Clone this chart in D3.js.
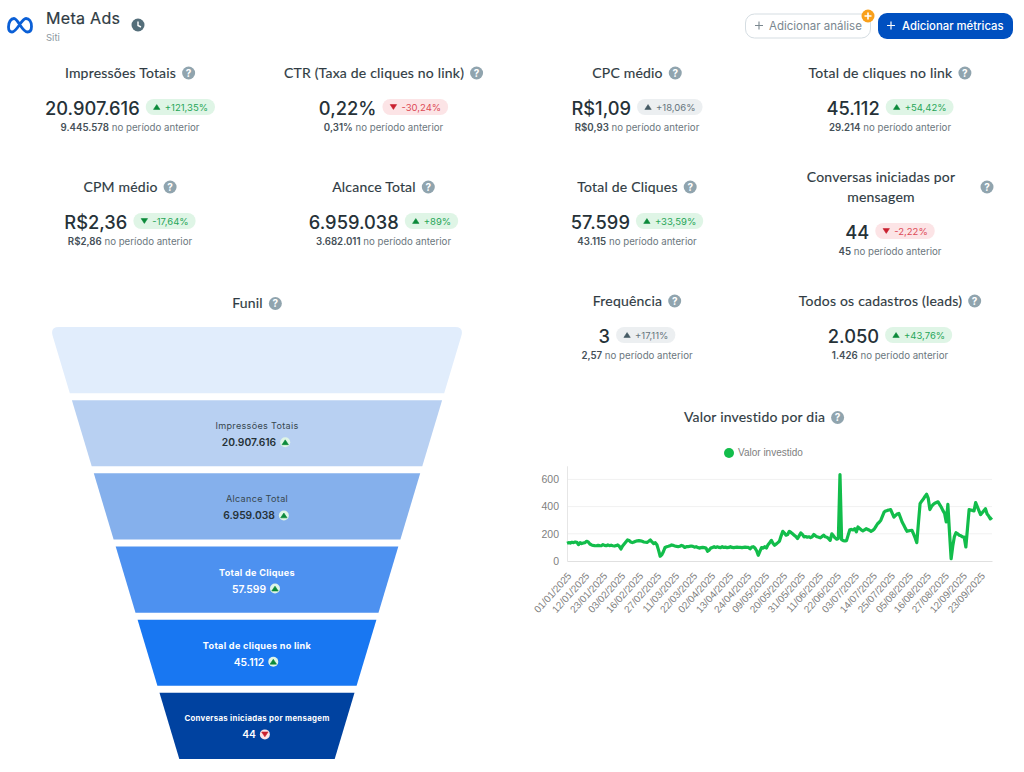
<!DOCTYPE html>
<html lang="pt-BR">
<head>
<meta charset="utf-8">
<title>Meta Ads</title>
<script src="https://cdn.jsdelivr.net/npm/d3@7/dist/d3.min.js"></script>
<style>
  html, body { margin: 0; padding: 0; background: #fff; }
  svg { display: block; }
  text { font-family: Inter, "Noto Sans", sans-serif; }
  .title { font-family: Lato, sans-serif; font-size: 14px; fill: #2f3b43; letter-spacing: .2px; stroke: #2f3b43; stroke-width: .15px; }
  .chart-txt { font-family: "Liberation Sans", Arial, sans-serif; font-size: 10px; fill: #808080; }
</style>
</head>
<body>
<svg id="page" width="1024" height="772"></svg>
<script>
// Metric cards
const metricNames = ["Impressões Totais", "CTR (Taxa de cliques no link)", "CPC médio", "Total de cliques no link",
  "CPM médio", "Alcance Total", "Total de Cliques", "Conversas iniciadas por mensagem",
  "Frequência", "Todos os cadastros (leads)"];
const metricValues = ["20.907.616", "0,22%", "R$1,09", "45.112", "R$2,36", "6.959.038", "57.599", "44", "3", "2.050"];
const metricDeltas = ["+121,35%", "-30,24%", "+18,06%", "+54,42%", "-17,64%", "+89%", "+33,59%", "-2,22%", "+17,11%", "+43,76%"];
const metricPrev = ["9.445.578", "0,31%", "R$0,93", "29.214", "R$2,86", "3.682.011", "43.115", "45", "2,57", "1.426"];
const metricTones = ["good", "bad", "neutral", "good", "good", "good", "good", "bad", "neutral", "good"];

// Funnel
const funnelLabels = ["", "Impressões Totais", "Alcance Total", "Total de Cliques", "Total de cliques no link", "Conversas iniciadas por mensagem"];
const funnelValues = ["", "20.907.616", "6.959.038", "57.599", "45.112", "44"];
const funnelTrend = ["", "up", "up", "up", "up", "down"];
const funnelColors = ["#e1edfc", "#b8d0f2", "#85b0ec", "#4d91f0", "#1877f2", "#0042a0"];

// Valor investido por dia, one value per day shown
const spendTickLabels = ["01/01/2025", "12/01/2025", "23/01/2025", "03/02/2025", "16/02/2025", "27/02/2025", "11/03/2025", "22/03/2025",
  "02/04/2025", "13/04/2025", "24/04/2025", "09/05/2025", "20/05/2025", "31/05/2025", "11/06/2025", "22/06/2025",
  "03/07/2025", "14/07/2025", "25/07/2025", "05/08/2025", "16/08/2025", "27/08/2025", "12/09/2025", "23/09/2025"];
const spendValues = [
  130, 135, 132, 138, 135, 140, 138, 120, 135, 128, 132,
  135, 145, 140, 125, 118, 115, 113, 112, 115, 113, 112,
  120, 115, 112, 118, 113, 116, 112, 110, 113, 118, 108,
  88, 110, 125, 140, 155, 150, 140, 135, 140, 145, 148,
  150, 148, 145, 140, 138, 137, 145, 155, 140, 128, 135,
  120, 80, 35, 45, 70, 100, 105, 108, 112, 118, 115,
  110, 108, 105, 108, 115, 110, 100, 105, 105, 108, 110,
  108, 102, 105, 100, 95, 98, 100, 98, 95, 72, 80,
  95, 100, 105, 100, 104, 100, 98, 105, 100, 102, 98,
  100, 105, 100, 98, 100, 102, 100, 100, 98, 100, 102,
  100, 100, 90, 102, 105, 95, 75, 42, 70, 98, 95,
  105, 95, 120, 135, 152, 130, 115, 125, 135, 147, 185,
  218, 205, 190, 195, 218, 210, 200, 190, 180, 165, 185,
  206, 195, 177, 180, 175, 178, 172, 178, 195, 185, 178,
  175, 170, 180, 190, 178, 175, 165, 152, 200, 185, 170,
  160, 165, 635, 157, 150, 148, 150, 190, 230, 232, 228,
  238, 214, 250, 240, 228, 221, 228, 238, 232, 226, 218,
  225, 235, 255, 274, 285, 300, 330, 360, 368, 372, 375,
  378, 350, 323, 335, 345, 350, 320, 287, 265, 240, 218,
  222, 224, 226, 200, 170, 135, 280, 422, 440, 455, 475,
  491, 460, 378, 400, 415, 425, 430, 435, 415, 395, 370,
  350, 287, 416, 210, 17, 110, 180, 208, 200, 190, 185,
  177, 175, 103, 240, 378, 375, 372, 368, 430, 400, 370,
  341, 355, 370, 385, 345, 330, 310, 320
];
const spendYTicks = [0, 200, 400, 600];

const svg = d3.select("#page");

const TONES = {
  good: { bg: "#dff5e6", fg: "#27a558", arrow: "#0b8a3a" },
  bad: { bg: "#fce4e6", fg: "#dc4a56", arrow: "#c9202f" },
  neutral: { bg: "#eceff1", fg: "#66747c", arrow: "#455a64" },
};

function helpIcon(g, x, y) {
  g.append("circle").attr("cx", x).attr("cy", y).attr("r", 6.5).attr("fill", "#90a4ae");
  g.append("text").attr("x", x).attr("y", y + 3.6).attr("text-anchor", "middle")
    .attr("font-size", 10).attr("font-weight", 700).attr("fill", "#fff").text("?");
}

// small triangle, tip up or down
function triangle(g, x, y, size, dir, fill) {
  const s = dir === "up" ? -1 : 1;
  g.append("path")
    .attr("d", `M${x - size},${y - s * size * 0.75}L${x + size},${y - s * size * 0.75}L${x},${y + s * size * 0.75}Z`)
    .attr("fill", fill).attr("stroke", fill).attr("stroke-width", 0.6).attr("stroke-linejoin", "round");
}

function titleWidth(g, str) {
  const t = g.append("text").attr("class", "title").text(str);
  const w = t.node().getComputedTextLength();
  t.remove();
  return w;
}

// ---- header
const meta = svg.append("g");
meta.append("path")
  .attr("d", "M12,32 C9,32 8.5,29 8.5,27 C8.5,22 11,18.5 14,18.5 C18,18.5 22,32 27.5,32 C30.5,32 31.5,29.5 31.5,26.5 C31.5,21.5 29,18.5 26,18.5 C21.5,18.5 17,32 12,32Z")
  .attr("fill", "none").attr("stroke", "#0a5fd6").attr("stroke-width", 2.8).attr("stroke-linejoin", "round");
meta.append("text").attr("x", 46).attr("y", 24).attr("font-family", "Lato").attr("font-size", 16)
  .attr("letter-spacing", 0.3).attr("fill", "#2f3b43").attr("stroke", "#2f3b43").attr("stroke-width", 0.2).text("Meta Ads");
meta.append("text").attr("x", 46).attr("y", 41).attr("font-size", 9.5).attr("fill", "#8a979f").text("Siti");
meta.append("circle").attr("cx", 138).attr("cy", 25).attr("r", 6.5).attr("fill", "#546e7a");
meta.append("path").attr("d", "M138,21.5V25.5L141,27").attr("fill", "none").attr("stroke", "#fff").attr("stroke-width", 1.4);

const btn = svg.append("g");
btn.append("rect").attr("x", 745.5).attr("y", 14).attr("width", 125).attr("height", 24).attr("rx", 9)
  .attr("fill", "#fff").attr("stroke", "#d5dde2");
btn.append("path").attr("d", "M759,21.5V29.5M755,25.5H763").attr("stroke", "#7a878f").attr("stroke-width", 1.1);
btn.append("text").attr("x", 769).attr("y", 29.5).attr("font-size", 11.5).attr("fill", "#7a878f").text("Adicionar análise");
btn.append("circle").attr("cx", 868).attr("cy", 16).attr("r", 6.5).attr("fill", "#f9a01b");
btn.append("path").attr("d", "M868,12.5V19.5M864.5,16H871.5").attr("stroke", "#fff").attr("stroke-width", 1.6);
btn.append("rect").attr("x", 878).attr("y", 13).attr("width", 135).attr("height", 26).attr("rx", 9).attr("fill", "#0050c0");
btn.append("path").attr("d", "M891,21.5V29.5M887,25.5H895").attr("stroke", "#fff").attr("stroke-width", 1.2);
btn.append("text").attr("x", 902).attr("y", 29.5).attr("font-size", 11.3).attr("font-weight", 500).attr("fill", "#fff").text("Adicionar métricas");

// ---- metric cards
const cardX = [130, 383.5, 637, 890, 130, 383.5, 637, 890, 637, 890];
const cardTitleY = [73, 73, 73, 73, 187, 187, 187, 187, 301, 301];
const cardValueY = [108, 108, 108, 108, 222, 222, 222, 232, 336, 336];

metricNames.forEach((name, i) => {
  const g = svg.append("g");
  const cx = cardX[i];
  if (name.startsWith("Conversas")) {
    const parts = ["Conversas iniciadas por", "mensagem"];
    parts.forEach((p, k) => g.append("text").attr("class", "title").attr("x", 881).attr("y", 182 + k * 20)
      .attr("text-anchor", "middle").text(p));
    helpIcon(g, 987, 187);
  } else {
    const w = titleWidth(g, name);
    const left = cx - (w + 19) / 2;
    g.append("text").attr("class", "title").attr("x", left).attr("y", cardTitleY[i] + 5).text(name);
    helpIcon(g, left + w + 12.5, cardTitleY[i]);
  }

  // value + pill, centred together
  const vy = cardValueY[i];
  const tone = TONES[metricTones[i]];
  const valT = g.append("text").attr("y", vy + 7).attr("font-size", 18.3).attr("font-weight", 500)
    .attr("fill", "#263238").text(metricValues[i]);
  const dltT = g.append("text").attr("y", vy + 2.5).attr("font-size", 9.5).attr("fill", tone.fg).text(metricDeltas[i]);
  const vw = valT.node().getComputedTextLength();
  const dw = dltT.node().getComputedTextLength();
  const pw = dw + 26;
  const x0 = cx - (vw + 6 + pw) / 2;
  valT.attr("x", x0);
  const px = x0 + vw + 6;
  g.insert("rect", "text:last-child").attr("x", px).attr("y", vy - 9).attr("width", pw).attr("height", 16).attr("rx", 8).attr("fill", tone.bg);
  dltT.attr("x", px + 19);
  const dir = metricDeltas[i][0] === "+" ? "up" : "down";
  triangle(g, px + 11, vy - 1, 3.2, dir, tone.arrow);

  const prev = g.append("text").attr("x", cx).attr("y", vy + 23).attr("text-anchor", "middle").attr("font-size", 9.7).attr("fill", "#6b777e");
  prev.append("tspan").attr("font-weight", 600).attr("fill", "#455058").text(metricPrev[i]);
  prev.append("tspan").text(" no período anterior");
});

// ---- funnel
const funnel = svg.append("g");
{
  const w = titleWidth(funnel, "Funil");
  const left = 257 - (w + 19) / 2;
  funnel.append("text").attr("class", "title").attr("x", left).attr("y", 308).text("Funil");
  helpIcon(funnel, left + w + 12.5, 303.5);
}
const bandY = d3.scaleBand().domain(d3.range(funnelLabels.length)).range([327, 759]).paddingInner(0.095).paddingOuter(0);
const halfW = d3.scaleLinear().domain([327, 758]).range([207, 78]);
const funnelCx = 257;

function bandPath(i) {
  const y0 = bandY(i), y1 = y0 + bandY.bandwidth();
  const a = halfW(y0), b = halfW(y1);
  const p = d3.path();
  if (i === 0) {
    const r = 9;
    p.moveTo(funnelCx - a + 2.7, y0 + r);
    p.quadraticCurveTo(funnelCx - a, y0, funnelCx - a + r, y0);
    p.lineTo(funnelCx + a - r, y0);
    p.quadraticCurveTo(funnelCx + a, y0, funnelCx + a - 2.7, y0 + r);
  } else {
    p.moveTo(funnelCx - a, y0);
    p.lineTo(funnelCx + a, y0);
  }
  p.lineTo(funnelCx + b, y1);
  p.lineTo(funnelCx - b, y1);
  p.closePath();
  return p.toString();
}

const bands = funnel.selectAll("g.band").data(funnelLabels).join("g").attr("class", "band");
bands.append("path").attr("d", (d, i) => bandPath(i)).attr("fill", (d, i) => funnelColors[i]);
bands.each(function (label, i) {
  if (!label) return;
  const g = d3.select(this);
  const mid = bandY(i) + bandY.bandwidth() / 2;
  const ink = i < 3 ? "#37474f" : "#fff";
  g.append("text").attr("x", funnelCx).attr("y", mid + (i === 5 ? -4.5 : -4)).attr("text-anchor", "middle")
    .attr("font-family", "Lato").attr("font-size", i === 5 ? 7.8 : 9.1).attr("letter-spacing", 0.3)
    .attr("font-weight", i < 3 ? 400 : 700).attr("fill", ink).text(label);
  const v = g.append("text").attr("y", mid + (i === 5 ? 12.5 : 13)).attr("font-size", 10.3).attr("font-weight", 600)
    .attr("fill", i < 3 ? "#263238" : "#fff").text(funnelValues[i]);
  const w = v.node().getComputedTextLength();
  const left = funnelCx - (w + 14) / 2 - 1;
  v.attr("x", left);
  const ix = left + w + 9;
  const iy = mid + (i === 5 ? 8.5 : 9);
  g.append("circle").attr("cx", ix).attr("cy", iy).attr("r", 5).attr("fill", funnelTrend[i] === "up" ? "#dff5e6" : "#fce4e6");
  triangle(g, ix, iy, 3.2, funnelTrend[i], funnelTrend[i] === "up" ? "#0b8a3a" : "#c9202f");
});

// ---- line chart
const chart = svg.append("g");
{
  const w = titleWidth(chart, "Valor investido por dia");
  const left = 764 - (w + 19) / 2;
  chart.append("text").attr("class", "title").attr("x", left).attr("y", 422).text("Valor investido por dia");
  helpIcon(chart, left + w + 12.5, 417.5);
}
chart.append("circle").attr("cx", 729).attr("cy", 453).attr("r", 5).attr("fill", "#12bd4b");
chart.append("text").attr("class", "chart-txt").attr("x", 738).attr("y", 456).text("Valor investido");

const x = d3.scaleLinear().domain([0, spendValues.length - 1]).range([567, 992]);
const y = d3.scaleLinear().domain([0, 700]).range([561, 465.8]);

const grid = chart.append("g");
grid.selectAll("line").data(spendYTicks.slice(1)).join("line")
  .attr("x1", 567).attr("x2", 992).attr("y1", y).attr("y2", y).attr("stroke", "#f1f1f1");

const yAxis = chart.append("g").attr("transform", "translate(567,0)")
  .call(d3.axisLeft(y).tickValues(spendYTicks).tickSize(0).tickPadding(8));
yAxis.select(".domain").attr("stroke", "#e6e6e6");
yAxis.selectAll("text").attr("class", "chart-txt").style("font-size", "10.5px");

const xAxis = chart.append("g").attr("transform", "translate(0,561)")
  .call(d3.axisBottom(x).tickValues(spendTickLabels.map((d, i) => i * 11))
    .tickFormat((d) => spendTickLabels[d / 11]).tickSize(0).tickPadding(0));
xAxis.select(".domain").attr("stroke", "#e0e0e0");
xAxis.selectAll("text").attr("class", "chart-txt").style("font-size", "10px")
  .attr("text-anchor", "end").attr("y", 0).attr("dy", "0.35em")
  .attr("transform", "translate(2,13) rotate(-48)");

const line = d3.line().x((d, i) => x(i)).y((d) => y(d));
chart.append("path").datum(spendValues).attr("d", line).attr("fill", "none")
  .attr("stroke", "#12bd4b").attr("stroke-width", 3.2).attr("stroke-linejoin", "round");
</script>
</body>
</html>
